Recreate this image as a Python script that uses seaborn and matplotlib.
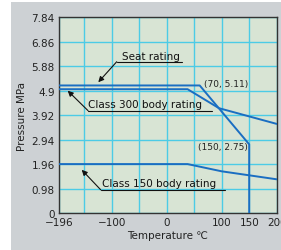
import numpy as np
import pandas as pd
import matplotlib
matplotlib.use("Agg")
import matplotlib.pyplot as plt
import seaborn as sns
from matplotlib.patches import Rectangle

# ratings (temperature in C, pressure in MPa)
seat_temp = [-196, 60, 150, 150]
seat_pres = [5.11, 5.11, 2.75, 0.0]
class300_temp = [-196, 38, 95, 200]
class300_pres = [4.96, 4.96, 4.2, 3.57]
class150_temp = [-196, 38, 100, 200]
class150_pres = [1.96, 1.96, 1.67, 1.35]

y_ticks = [0, 0.98, 1.96, 2.94, 3.92, 4.9, 5.88, 6.86, 7.84]
y_labels = ["0", "0.98", "1.96", "2.94", "3.92", "4.9", "5.88", "6.86", "7.84"]
x_ticks = [-196, -150, -100, -50, 0, 50, 100, 150, 200]
x_labels = ["\u2212196", "", "\u2212100", "", "0", "", "100", "150", "200"]

line_col = "#1a6ec2"
grid_col = "#4ccbe6"

sns.set_style("white")
plt.rcParams["font.family"] = ["DejaVu Sans"]

fig = plt.figure(figsize=(2.81, 2.51), dpi=100)
fig.patch.set_facecolor("white")
fig.patches.append(Rectangle((11 / 281, 0), 1, 1 - 3 / 251, transform=fig.transFigure,
                             facecolor="#cdd1d4", edgecolor="none", zorder=-10))
ax = fig.add_axes([0.2096, 0.1474, 0.7751, 0.7796])
ax.set_facecolor("#d8e4d4")

for t, p in [(seat_temp, seat_pres), (class300_temp, class300_pres), (class150_temp, class150_pres)]:
    df = pd.DataFrame({"temp": t, "pres": p})
    sns.lineplot(data=df, x="temp", y="pres", sort=False, estimator=None, ax=ax,
                 color=line_col, lw=1.4, zorder=3)

ax.set_xlim(-196, 200)
ax.set_ylim(0, 7.84)
ax.set_xticks(x_ticks)
ax.set_xticklabels(x_labels, fontsize=7.5)
ax.set_yticks(y_ticks)
ax.set_yticklabels(y_labels, fontsize=7.5)
ax.tick_params(length=0, pad=3, colors="#222222")
ax.grid(True, color=grid_col, lw=1.0)
ax.set_axisbelow(True)
for s in ax.spines.values():
    s.set_color("#333333")
    s.set_linewidth(1.0)

ax.set_xlabel("Temperature \u2103", fontsize=7.5, color="#222222", labelpad=2)
ax.set_ylabel("Pressure MPa", fontsize=7.5, color="#222222", labelpad=3)

# labels with underline and arrow
notes = [
    ("Seat rating", -81.8, 6.30, -90.9, 27.8, 6.06, -124.4, 5.24),
    ("Class 300 body rating", -142.5, 4.37, -143, 81.8, 4.10, -180, 4.90),
    ("Class 150 body rating", -118, 1.20, -120, 106, 0.93, -154.5, 1.73),
]
for txt, tx, ty, ux0, ux1, uy, ax_, ay in notes:
    ax.text(tx, ty, txt, fontsize=7.5, va="center", ha="left", color="#111111", zorder=5)
    ax.plot([ux0, ux1], [uy, uy], color="#111111", lw=0.8, zorder=5)
    ax.annotate("", xy=(ax_, ay), xytext=(ux0, uy),
                arrowprops=dict(arrowstyle="-|>", color="#111111", lw=0.8,
                                mutation_scale=8, shrinkA=0, shrinkB=0), zorder=5)

ax.text(68.4, 5.17, "(70, 5.11)", fontsize=6.5, va="center", ha="left", color="#222222")
ax.text(56.4, 2.66, "(150, 2.75)", fontsize=6.5, va="center", ha="left", color="#222222")

fig.savefig("out.png", dpi=100)
